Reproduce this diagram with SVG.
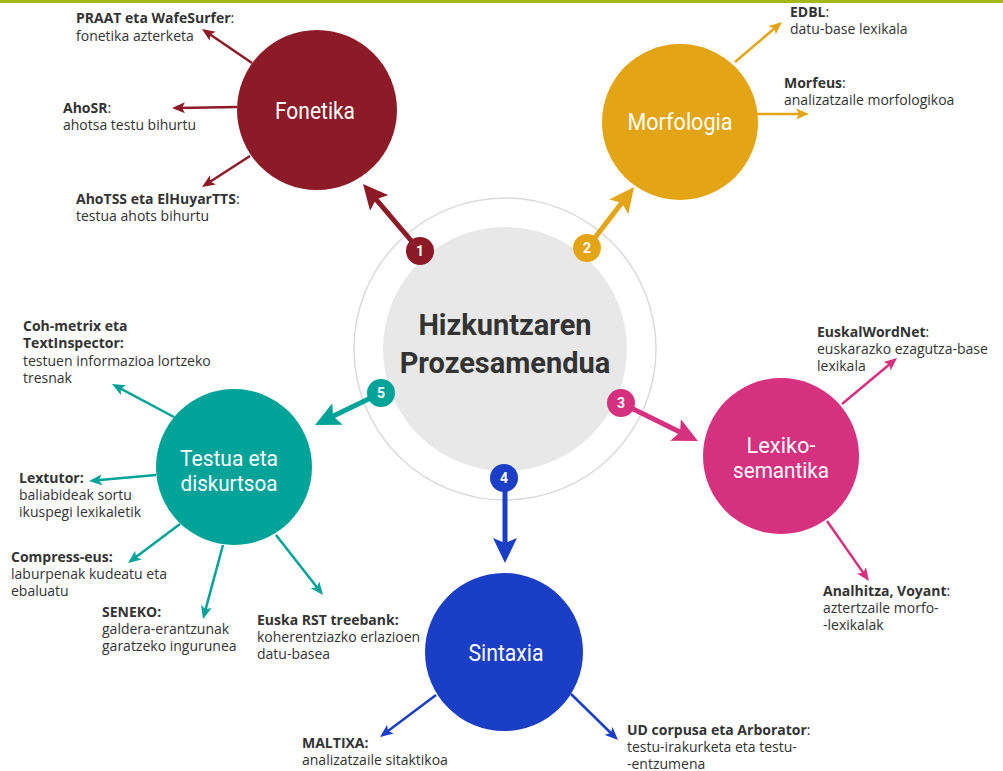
<svg xmlns="http://www.w3.org/2000/svg" width="1003" height="771" viewBox="0 0 1003 771">
<style>
.lbl{font-family:"Open Sans","Liberation Sans",sans-serif;font-size:14px;fill:#333;}
.b{font-weight:700;}
.node{font-family:Roboto,"Liberation Sans",sans-serif;font-size:24px;fill:#fff;text-anchor:middle;}
.node2{font-family:Roboto,"Liberation Sans",sans-serif;font-size:22px;fill:#fff;text-anchor:middle;}
.num{font-family:Roboto,"Liberation Sans",sans-serif;font-size:14px;font-weight:700;fill:#fff;text-anchor:middle;}
.title{font-family:Roboto,"Liberation Sans",sans-serif;font-size:29px;font-weight:700;fill:#333;text-anchor:middle;}
.thin{fill:none;stroke-width:2.5;}
.thick{fill:none;stroke-width:5;}
</style>
<defs>
<marker id="mr" markerUnits="userSpaceOnUse" markerWidth="14" markerHeight="12" refX="8" refY="6" orient="auto"><path d="M0,0.5 L13,6 L0,11.5 L3,6 z" fill="#8c1b27"/></marker>
<marker id="my" markerUnits="userSpaceOnUse" markerWidth="14" markerHeight="12" refX="8" refY="6" orient="auto"><path d="M0,0.5 L13,6 L0,11.5 L3,6 z" fill="#e3a416"/></marker>
<marker id="mp" markerUnits="userSpaceOnUse" markerWidth="14" markerHeight="12" refX="8" refY="6" orient="auto"><path d="M0,0.5 L13,6 L0,11.5 L3,6 z" fill="#d6317e"/></marker>
<marker id="mb" markerUnits="userSpaceOnUse" markerWidth="14" markerHeight="12" refX="8" refY="6" orient="auto"><path d="M0,0.5 L13,6 L0,11.5 L3,6 z" fill="#1a3ec6"/></marker>
<marker id="mt" markerUnits="userSpaceOnUse" markerWidth="14" markerHeight="12" refX="8" refY="6" orient="auto"><path d="M0,0.5 L13,6 L0,11.5 L3,6 z" fill="#00a398"/></marker>
<marker id="Mr" markerUnits="userSpaceOnUse" markerWidth="26" markerHeight="24" refX="15" refY="12" orient="auto"><path d="M0,0 L25,12 L0,24 L5,12 z" fill="#8c1b27"/></marker>
<marker id="My" markerUnits="userSpaceOnUse" markerWidth="26" markerHeight="24" refX="15" refY="12" orient="auto"><path d="M0,0 L25,12 L0,24 L5,12 z" fill="#e3a416"/></marker>
<marker id="Mp" markerUnits="userSpaceOnUse" markerWidth="26" markerHeight="24" refX="15" refY="12" orient="auto"><path d="M0,0 L25,12 L0,24 L5,12 z" fill="#d6317e"/></marker>
<marker id="Mb" markerUnits="userSpaceOnUse" markerWidth="26" markerHeight="24" refX="15" refY="12" orient="auto"><path d="M0,0 L25,12 L0,24 L5,12 z" fill="#1a3ec6"/></marker>
<marker id="Mt" markerUnits="userSpaceOnUse" markerWidth="26" markerHeight="24" refX="15" refY="12" orient="auto"><path d="M0,0 L25,12 L0,24 L5,12 z" fill="#00a398"/></marker>
</defs>
<rect x="0" y="0" width="1003" height="771" fill="#fff"/>
<rect x="0" y="0" width="1003" height="3" fill="#a5b819"/>

<g id="center">
<circle cx="505" cy="349" r="151" fill="none" stroke="#dadada" stroke-width="1.5"/>
<circle cx="505" cy="349" r="122" fill="#e8e8e8"/>
<text class="title" x="505" y="335">Hizkuntzaren</text>
<text class="title" x="505" y="373">Prozesamendua</text>
</g>

<g id="connectors">
<line class="thin" stroke="#8c1b27" x1="252" y1="63" x2="206.1" y2="31.8" marker-end="url(#mr)"/>
<line class="thin" stroke="#8c1b27" x1="237" y1="107" x2="177" y2="108" marker-end="url(#mr)"/>
<line class="thin" stroke="#8c1b27" x1="250" y1="156" x2="206.2" y2="184.3" marker-end="url(#mr)"/>
<line class="thin" stroke="#e3a416" x1="735" y1="62" x2="778.2" y2="25.2" marker-end="url(#my)"/>
<line class="thin" stroke="#e3a416" x1="757" y1="114" x2="804" y2="114" marker-end="url(#my)"/>
<line class="thin" stroke="#d6317e" x1="842" y1="404" x2="893.2" y2="361.2" marker-end="url(#mp)"/>
<line class="thin" stroke="#d6317e" x1="827" y1="521" x2="866.1" y2="576.9" marker-end="url(#mp)"/>
<line class="thin" stroke="#1a3ec6" x1="436" y1="695" x2="384" y2="734" marker-end="url(#mb)"/>
<line class="thin" stroke="#1a3ec6" x1="571" y1="694" x2="614.4" y2="736.5" marker-end="url(#mb)"/>
<line class="thin" stroke="#00a398" x1="174" y1="417" x2="116.4" y2="386.4" marker-end="url(#mt)"/>
<line class="thin" stroke="#00a398" x1="156" y1="475" x2="94" y2="480.6" marker-end="url(#mt)"/>
<line class="thin" stroke="#00a398" x1="180" y1="524" x2="132" y2="560" marker-end="url(#mt)"/>
<line class="thin" stroke="#00a398" x1="223" y1="545" x2="204.3" y2="614.2" marker-end="url(#mt)"/>
<line class="thin" stroke="#00a398" x1="276" y1="535" x2="319.9" y2="591.1" marker-end="url(#mt)"/>
<line class="thick" stroke="#8c1b27" x1="420" y1="251" x2="369.5" y2="191.6" marker-end="url(#Mr)"/>
<line class="thick" stroke="#e3a416" x1="587" y1="248" x2="627.9" y2="194.9" marker-end="url(#My)"/>
<line class="thick" stroke="#d6317e" x1="621" y1="403" x2="689" y2="436.6" marker-end="url(#Mp)"/>
<line class="thick" stroke="#1a3ec6" x1="505" y1="478" x2="505" y2="553" marker-end="url(#Mb)"/>
<line class="thick" stroke="#00a398" x1="381" y1="393" x2="324" y2="420.6" marker-end="url(#Mt)"/>
</g>

<g id="badges">
<g id="badge1"><circle cx="420" cy="251" r="14" fill="#8c1b27"/><text class="num" x="420" y="256">1</text></g>
<g id="badge2"><circle cx="587" cy="248" r="14" fill="#e3a416"/><text class="num" x="587" y="253">2</text></g>
<g id="badge3"><circle cx="621" cy="403" r="14" fill="#d6317e"/><text class="num" x="621" y="408">3</text></g>
<g id="badge4"><circle cx="504" cy="478" r="14" fill="#1a3ec6"/><text class="num" x="504" y="483">4</text></g>
<g id="badge5"><circle cx="381" cy="393" r="14" fill="#00a398"/><text class="num" x="381" y="398">5</text></g>
</g>

<g id="fonetika">
<circle cx="317" cy="110" r="80" fill="#8c1b27"/>
<text class="node" x="315" y="119" textLength="80" lengthAdjust="spacingAndGlyphs">Fonetika</text>
</g>
<g id="morfologia">
<circle cx="680" cy="122" r="78" fill="#e3a416"/>
<text class="node" x="680" y="130" textLength="105" lengthAdjust="spacingAndGlyphs">Morfologia</text>
</g>
<g id="lexikosemantika">
<circle cx="781" cy="456" r="78" fill="#d6317e"/>
<text class="node2" x="781" y="453" textLength="69" lengthAdjust="spacingAndGlyphs">Lexiko-</text>
<text class="node2" x="781" y="478" textLength="96" lengthAdjust="spacingAndGlyphs">semantika</text>
</g>
<g id="sintaxia">
<circle cx="504" cy="652" r="79" fill="#1a3ec6"/>
<text class="node" x="506" y="661" textLength="75" lengthAdjust="spacingAndGlyphs">Sintaxia</text>
</g>
<g id="testua">
<circle cx="234" cy="467" r="78" fill="#00a398"/>
<text class="node2" x="229" y="466" textLength="98" lengthAdjust="spacingAndGlyphs">Testua eta</text>
<text class="node2" x="229" y="491" textLength="97" lengthAdjust="spacingAndGlyphs">diskurtsoa</text>
</g>

<g id="labels">
<g id="l-praat"><text class="lbl" x="76" y="23"><tspan class="b">PRAAT eta WafeSurfer</tspan>:</text><text class="lbl" x="76" y="41">fonetika azterketa</text></g>
<g id="l-ahosr"><text class="lbl" x="63" y="113"><tspan class="b">AhoSR</tspan>:</text><text class="lbl" x="63" y="130">ahotsa testu bihurtu</text></g>
<g id="l-ahotss"><text class="lbl" x="76" y="204"><tspan class="b">AhoTSS eta ElHuyarTTS</tspan>:</text><text class="lbl" x="76" y="221">testua ahots bihurtu</text></g>
<g id="l-edbl"><text class="lbl" x="790" y="17"><tspan class="b">EDBL</tspan>:</text><text class="lbl" x="790" y="34">datu-base lexikala</text></g>
<g id="l-morfeus"><text class="lbl" x="784" y="88"><tspan class="b">Morfeus</tspan>:</text><text class="lbl" x="784" y="105">analizatzaile morfologikoa</text></g>
<g id="l-ewn"><text class="lbl" x="817" y="337"><tspan class="b">EuskalWordNet</tspan>:</text><text class="lbl" x="817" y="354">euskarazko ezagutza-base</text><text class="lbl" x="817" y="371">lexikala</text></g>
<g id="l-analhitza"><text class="lbl" x="823" y="596"><tspan class="b">Analhitza, Voyant</tspan>:</text><text class="lbl" x="823" y="613">aztertzaile morfo-</text><text class="lbl" x="823" y="630">-lexikalak</text></g>
<g id="l-maltixa"><text class="lbl b" x="302" y="748">MALTIXA:</text><text class="lbl" x="302" y="765">analizatzaile sitaktikoa</text></g>
<g id="l-ud"><text class="lbl" x="627" y="735"><tspan class="b">UD corpusa eta Arborator</tspan>:</text><text class="lbl" x="627" y="752">testu-irakurketa eta testu-</text><text class="lbl" x="627" y="769">-entzumena</text></g>
<g id="l-coh"><text class="lbl b" x="23" y="331">Coh-metrix eta</text><text class="lbl b" x="23" y="348">TextInspector:</text><text class="lbl" x="23" y="366">testuen informazioa lortzeko</text><text class="lbl" x="23" y="383">tresnak</text></g>
<g id="l-lextutor"><text class="lbl b" x="19" y="483">Lextutor:</text><text class="lbl" x="19" y="500">baliabideak sortu</text><text class="lbl" x="19" y="517">ikuspegi lexikaletik</text></g>
<g id="l-compress"><text class="lbl b" x="11" y="562">Compress-eus:</text><text class="lbl" x="11" y="579">laburpenak kudeatu eta</text><text class="lbl" x="11" y="596">ebaluatu</text></g>
<g id="l-seneko"><text class="lbl b" x="102" y="617">SENEKO:</text><text class="lbl" x="102" y="634">galdera-erantzunak</text><text class="lbl" x="102" y="651">garatzeko ingurunea</text></g>
<g id="l-euska"><text class="lbl b" x="257" y="625">Euska RST treebank:</text><text class="lbl" x="257" y="642">koherentziazko erlazioen</text><text class="lbl" x="257" y="659">datu-basea</text></g>
</g>
</svg>
